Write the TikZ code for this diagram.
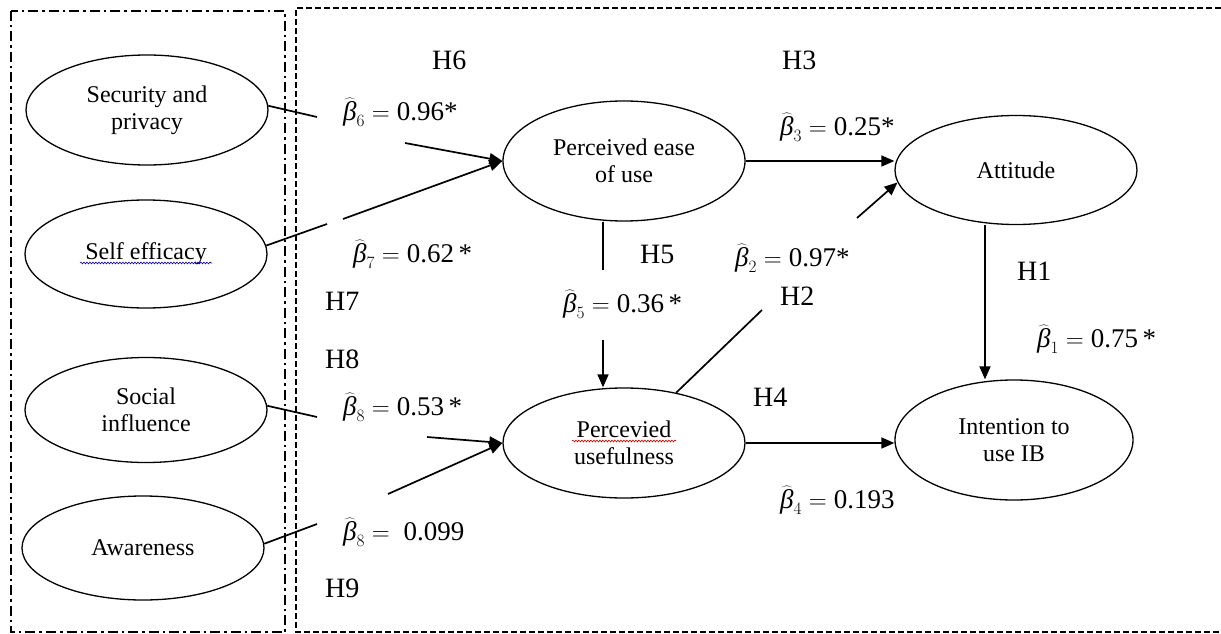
\documentclass[tikz,border=0pt]{standalone}
\usepackage{fontspec}
\setmainfont{Liberation Serif}
\usetikzlibrary{shapes.geometric,arrows.meta,decorations.pathmorphing}
\newcommand{\hb}[1]{\widehat{\mbox{\itshape β}}_{#1}}
\begin{document}
\begin{tikzpicture}[x=1pt,y=-1pt,
  cons/.style={draw, ellipse, line width=1.3pt, minimum width=242pt, minimum height=110pt, inner sep=0pt, align=center, font=\fontsize{24}{27}\selectfont},
  hyp/.style={font=\fontsize{28}{30}\selectfont, inner sep=0pt, anchor=base west},
  coef/.style={font=\fontsize{27}{30}\selectfont, inner sep=0pt, anchor=base west},
  link/.style={line width=1.7pt},
  arr/.style={line width=1.7pt, -{Triangle[length=13pt,width=11pt]}},
  ddbox/.style={line width=2.8pt, dash pattern=on 10pt off 4pt on 2.5pt off 4pt},
  dbox/.style={line width=1.4pt, dash pattern=on 6pt off 3pt},
  wavy/.style={line width=0.6pt, decorate, decoration={snake, amplitude=0.9pt, segment length=3pt}},
]
\useasboundingbox (0,0) rectangle (1221,634);
% frames
\draw[ddbox] (11,11) rectangle (285,632);
\draw[dbox] (1221,8) -- (296,8) -- (296,632) -- (1221,632);

% constructs
\node[cons, minimum height=110pt] (sec) at (147,110) {Security and\\privacy};
\node[cons, minimum height=108pt] (self) at (146,254) {Self efficacy};
\node[cons, minimum height=105pt] (soc) at (146,410) {Social\\influence};
\node[cons, minimum height=104pt] (awa) at (143,548) {Awareness};
\node[cons, minimum height=120pt] (peou) at (624,161) {Perceived ease\\of use};
\node[cons, minimum height=110pt] (pu) at (624,443) {Percevied\\usefulness};
\node[cons, minimum height=109pt] (att) at (1016,170) {Attitude};
\node[cons, minimum width=238pt, minimum height=120pt] (int) at (1014,440) {Intention to\\use IB};

% spell-check underlines
\draw[wavy, blue!70!black] (80,263) -- (212,263);
\draw[wavy, red!80!black] (572,441) -- (676,441);

% break points
\coordinate (s1) at (317,117);
\coordinate (s2) at (405,143);
\coordinate (e1) at (327,224);
\coordinate (e2) at (343,219);
\coordinate (o1) at (317,417);
\coordinate (o2) at (427,437);
\coordinate (a1) at (317,524);
\coordinate (a2) at (388,494);
\coordinate (v1) at (603,270);
\coordinate (v2) at (603,340);
\coordinate (u1) at (762,310);
\coordinate (u2) at (857,218);
\coordinate (h1x) at (985,300);

% connectors
\draw[link] (sec.2) -- (s1);
\draw[arr] (s2) -- (peou.west);
\draw[link] (self.4) -- (e1);
\draw[arr] (e2) -- (peou.west);
\draw[link] (soc.2) -- (o1);
\draw[arr] (o2) -- (pu.west);
\draw[link] (awa.2) -- (a1);
\draw[arr] (a2) -- (pu.west);
\draw[arr] (peou.east) -- (peou.east -| att.west);
\draw[link] (peou.south -| v1) -- (v1);
\draw[arr] (v2) -- (v2 |- pu.north);
\draw[link] (pu) -- (u1);
\draw[arr] (u2) -- (att.186);
\draw[arr] (pu.east) -- (pu.east -| int.west);
\draw[arr] (att.south -| h1x) -- (int.north -| h1x);

% hypothesis labels
\node[hyp] (H6) at (432,70) {H6};
\node[hyp] (H3) at (782,70) {H3};
\node[hyp] (H5) at (640,263) {H5};
\node[hyp] (H2) at (780,305) {H2};
\node[hyp] (H1) at (1017,280) {H1};
\node[hyp] (H7) at (325,310) {H7};
\node[hyp] (H8) at (325,368) {H8};
\node[hyp] (H4) at (753,406) {H4};
\node[hyp] (H9) at (325,597) {H9};

% coefficients
\node[coef] (b6) at (343,120) {$\hb{6} = {}$0.96*};
\node[coef] (b7) at (353,262) {$\hb{7} = {}$0.62\,*};
\node[coef] (b8a) at (343,415) {$\hb{8} = {}$0.53\,*};
\node[coef] (b8b) at (343,540) {$\hb{8} = {}$\ 0.099};
\node[coef] (b5) at (563,312) {$\hb{5} = {}$0.36\,*};
\node[coef] (b3) at (780,135) {$\hb{3} = {}$0.25*};
\node[coef] (b2) at (735,266) {$\hb{2} = {}$0.97*};
\node[coef] (b1) at (1037,347) {$\hb{1} = {}$0.75\,*};
\node[coef] (b4) at (780,508) {$\hb{4} = {}$0.193};
\end{tikzpicture}
\end{document}
